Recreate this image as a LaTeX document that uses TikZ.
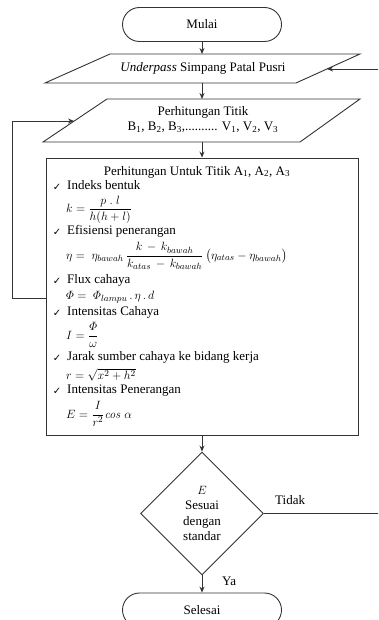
\documentclass[tikz,border=0pt]{standalone}
\usepackage{amsmath}
\usepackage[no-math]{fontspec}
\setmainfont{Liberation Serif}
\newfontfamily\djv{DejaVu Sans}
\usetikzlibrary{shapes.geometric,shapes.misc,arrows.meta}
\begin{document}
\begin{tikzpicture}[x=1pt,y=-1pt,
  line/.style={draw=black!80, line width=0.9pt},
  arr/.style={line, -{Stealth[length=6pt,width=5pt]}},
  term/.style={rounded rectangle, line, minimum width=159pt, minimum height=34pt, inner sep=0pt, font=\fontsize{13}{15.5}\selectfont},
  txt/.style={font=\fontsize{13}{15.5}\selectfont, inner sep=0pt},
  item/.style={txt, anchor=mid west},
  chk/.style={font=\djv\fontsize{10}{11}\selectfont, inner sep=0pt},
  frm/.style={txt, anchor=west},
]
\useasboundingbox (0,0) rectangle (378,620);
\clip (0,0) rectangle (378,620);

% start
\node[term] (mulai) at (202,24.5) {Mulai};

% input 1
\coordinate (a1) at (110,54);
\coordinate (a2) at (360,54);
\coordinate (a3) at (296,83);
\coordinate (a4) at (45,83);
\draw[line] (a1) -- (a2) -- (a3) -- (a4) -- cycle;
\node[txt] (under) at (203,68.5) {\textit{Underpass} Simpang Patal Pusri};
\coordinate (p1t) at (202,54);
\coordinate (p1b) at (202,83);
\coordinate (p1in) at (327,69);

% input 2
\coordinate (b1) at (107,99);
\coordinate (b2) at (360,99);
\coordinate (b3) at (300,142);
\coordinate (b4) at (43,142);
\draw[line] (b1) -- (b2) -- (b3) -- (b4) -- cycle;
\node[txt] (pt1) at (203,112) {Perhitungan Titik};
\node[txt] (pt2) at (203,127) {B\textsubscript{1}, B\textsubscript{2}, B\textsubscript{3},.......... V\textsubscript{1}, V\textsubscript{2}, V\textsubscript{3}};
\coordinate (p2t) at (202,99);
\coordinate (p2b) at (202,142);
\coordinate (p2in) at (74,121);

% process box
\node[rectangle, line, minimum width=312pt, minimum height=277pt, inner sep=0pt] (box) at (202,296.5) {};
\node[txt] (title) at (197,172) {Perhitungan Untuk Titik A\textsubscript{1}, A\textsubscript{2}, A\textsubscript{3}};

\node[chk] (c1) at (57,187) {✓};
\node[item] (i1) at (67,187) {Indeks bentuk};
\node[frm] (f1) at (66,210) {$k=\dfrac{p\;.\;l}{h(h+l)}$};

\node[chk] (c2) at (57,232) {✓};
\node[item] (i2) at (67,232) {Efisiensi penerangan};
\node[frm] (f2) at (66,256) {$\eta=\;\eta_{bawah}\,\dfrac{k\,-\,k_{bawah}}{k_{atas}\,-\,k_{bawah}}\,\bigl(\eta_{atas}-\eta_{bawah}\bigr)$};

\node[chk] (c3) at (57,281) {✓};
\node[item] (i3) at (67,281) {Flux cahaya};
\node[frm] (f3) at (66,297) {$\varPhi=\;\varPhi_{lampu}\,.\,\eta\,.\,d$};

\node[chk] (c4) at (57,313) {✓};
\node[item] (i4) at (67,313) {Intensitas Cahaya};
\node[txt, anchor=base west] (f4) at (66,339) {$I=\smash[b]{\dfrac{\varPhi}{\omega}}$};

\node[chk] (c5) at (57,358.5) {✓};
\node[item] (i5) at (67,358.5) {Jarak sumber cahaya ke bidang kerja};
\node[frm] (f5) at (66,378) {$r=\smash[t]{\sqrt{x^2+h^2}}$};

\node[chk] (c6) at (57,391) {✓};
\node[item] (i6) at (67,391) {Intensitas Penerangan};
\node[frm] (f6) at (66,414) {$E=\dfrac{I}{r^2}\mathit{cos}\;\alpha$};

% decision
\node[diamond, line, minimum width=123pt, minimum height=123pt, inner sep=0pt, align=center, font=\fontsize{13}{15.6}\selectfont] (dec) at (202,513.5) {$E$\\Sesuai\\dengan\\standar};
\node[txt, anchor=west] (tidak) at (275,500) {Tidak};
\node[txt, anchor=west] (ya) at (222,581) {Ya};

% end
\node[term] (selesai) at (202,610) {Selesai};

% connectors
\coordinate (r1) at (392,513.5);
\coordinate (r2) at (392,69);
\coordinate (lb) at (46,298);
\coordinate (l1) at (12,298);
\coordinate (l2) at (12,121);

\draw[arr] (mulai.south) -- (p1t);
\draw[arr] (p1b) -- (p2t);
\draw[arr] (p2b) -- (box.north);
\draw[arr] (box.south) -- (dec.north);
\draw[arr] (dec.south) -- (selesai.north);
\draw[arr] (dec.east) -- (r1) -- (r2) -- (p1in);
\draw[arr] (lb) -- (l1) -- (l2) -- (p2in);
\end{tikzpicture}
\end{document}
